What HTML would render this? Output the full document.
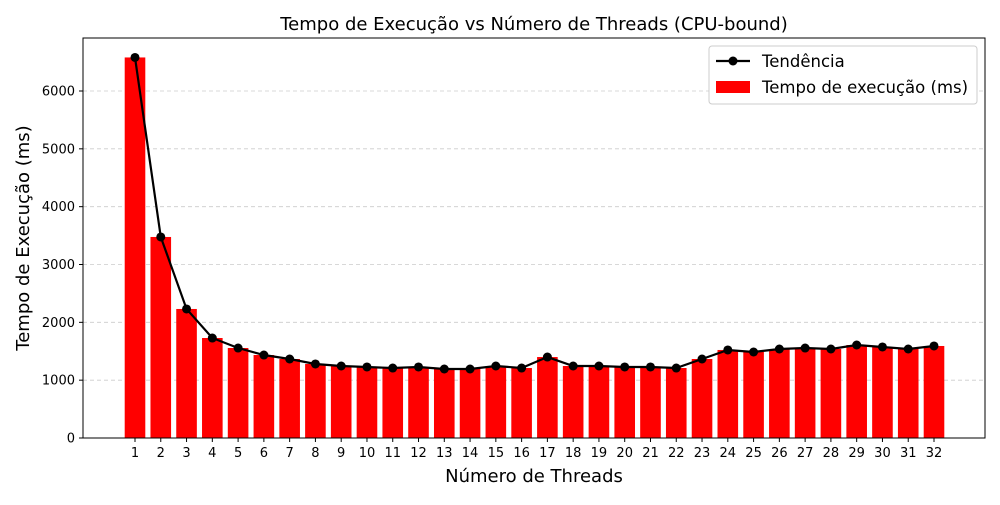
<!DOCTYPE html>
<html><head><meta charset="utf-8">
<style>
body{margin:0;background:#fff;font-family:"Liberation Sans","DejaVu Sans",sans-serif;}
svg text{font-family:"DejaVu Sans","Liberation Sans",sans-serif;}
</style></head>
<body>
<svg id="chart" width="1000" height="500" xmlns="http://www.w3.org/2000/svg">
<rect width="1000" height="500" fill="#fff"/>
<text x="534" y="30" font-size="18" text-anchor="middle">Tempo de Execução vs Número de Threads (CPU-bound)</text>
<g id="grid"></g><g id="bars"></g><g id="line"></g><g id="axes"></g>
<text x="534" y="482" font-size="18" text-anchor="middle">Número de Threads</text>
<text transform="translate(29,238) rotate(-90)" font-size="18" text-anchor="middle">Tempo de Execução (ms)</text>
<g>
<rect x="709" y="46" width="268" height="58" rx="3" fill="#fff" stroke="#ccc"/>
<line x1="716" y1="61" x2="750" y2="61" stroke="#000" stroke-width="2.2"/>
<circle cx="733" cy="61" r="4.5" fill="#000"/>
<text x="762" y="67" font-size="16.5">Tendência</text>
<rect x="716" y="81" width="34" height="12" fill="#ff0000"/>
<text x="762" y="93" font-size="16.5">Tempo de execução (ms)</text>
</g>
</svg>
<script>
const threads=[1,2,3,4,5,6,7,8,9,10,11,12,13,14,15,16,17,18,19,20,21,22,23,24,25,26,27,28,29,30,31,32];
const times=[6580,3476,2231,1729,1556,1435,1366,1280,1245,1228,1210,1228,1193,1193,1245,1210,1400,1245,1245,1228,1228,1210,1366,1522,1487,1539,1556,1539,1608,1574,1539,1591];
const yTicks=[0,1000,2000,3000,4000,5000,6000];
const NS='http://www.w3.org/2000/svg';
const L=83,R=985,T=38,B=438;
const x=i=>135+(i-1)*(934-135)/31;
const y=v=>B-v*(347/6000);
const bw=20.6;
function mk(tag,attrs,parent){const e=document.createElementNS(NS,tag);for(const k in attrs)e.setAttribute(k,attrs[k]);document.getElementById(parent).appendChild(e);return e;}
yTicks.forEach(t=>{
 if(t>0){const g=mk('line',{x1:L,x2:R,y1:y(t),y2:y(t),stroke:'#ccc','stroke-dasharray':'4,3','stroke-width':0.8},'grid');
 
 }
 const tk=mk('line',{x1:L-4,x2:L,y1:y(t),y2:y(t),stroke:'#000'},'axes');
 
 
 const tl=mk('text',{x:L-8,y:y(t)+4.5,'font-size':13,'text-anchor':'end'},'axes');tl.textContent=t;
 
 
});
threads.forEach((n,i)=>{
 const b=mk('rect',{x:x(n)-bw/2,y:y(times[i]),width:bw,height:B-y(times[i]),fill:'#ff0000'},'bars');
 
 
 const tk=mk('line',{x1:x(n),x2:x(n),y1:B,y2:B+4,stroke:'#000'},'axes');
 
 
 const tl=mk('text',{x:x(n),y:B+19,'font-size':13,'text-anchor':'middle'},'axes');tl.textContent=n;
 
 
});
const p=mk('polyline',{points:threads.map((n,i)=>x(n)+','+y(times[i])).join(' '),fill:'none',stroke:'#000','stroke-width':2.2},'line');


threads.forEach((n,i)=>{
 const c=mk('circle',{cx:x(n),cy:y(times[i]),r:4.5,fill:'#000'},'line');
 
 
});
const f=mk('rect',{x:L,y:T,width:R-L,height:B-T,fill:'none',stroke:'#000','stroke-width':1},'axes');


</script>
</body></html>
